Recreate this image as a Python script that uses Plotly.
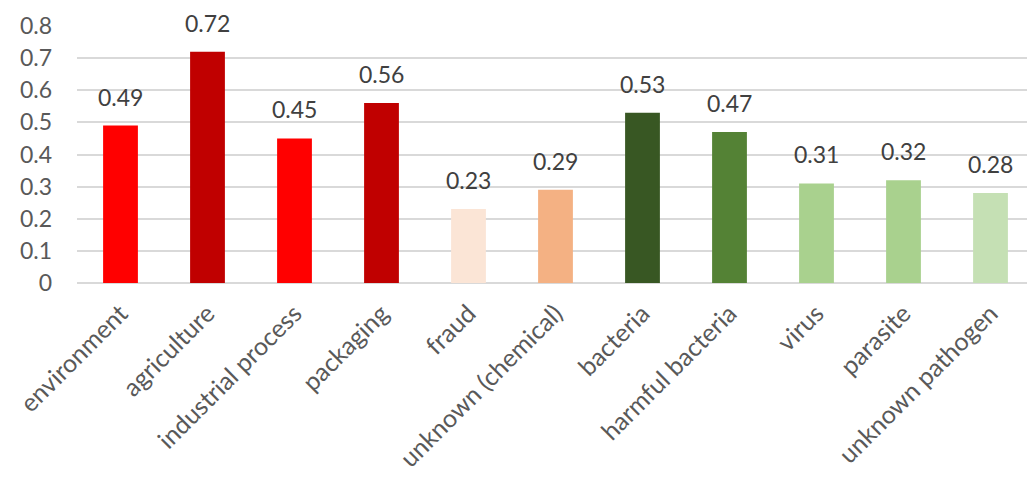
import plotly.graph_objects as go

categories = ["environment", "agriculture", "industrial process", "packaging", "fraud",
              "unknown (chemical)", "bacteria", "harmful bacteria", "virus", "parasite",
              "unknown pathogen"]
values = [0.49, 0.72, 0.45, 0.56, 0.23, 0.29, 0.53, 0.47, 0.31, 0.32, 0.28]
colors = ["#FF0000", "#C00000", "#FF0000", "#C00000", "#FBE5D6", "#F4B183",
          "#385723", "#548235", "#A9D18E", "#A9D18E", "#C5E0B4"]
labels = [f"{v:.2f}" for v in values]
y_ticks = [0, 0.1, 0.2, 0.3, 0.4, 0.5, 0.6, 0.7, 0.8]
y_tick_text = ["0", "0.1", "0.2", "0.3", "0.4", "0.5", "0.6", "0.7", "0.8"]

fig = go.Figure(go.Bar(
    x=categories, y=values, marker=dict(color=colors, line=dict(width=0)),
    width=0.4,
))
for c, v, t in zip(categories, values, labels):
    fig.add_annotation(x=c, y=v, text=t, showarrow=False, yanchor="middle",
                       yshift=29, font=dict(size=23, color="#404040", family="Lato"))
fig.update_layout(
    width=1027, height=469,
    margin=dict(l=69, r=1, t=18, b=194),
    plot_bgcolor="white", paper_bgcolor="white",
    font=dict(family="Lato", size=24, color="#595959"),
    showlegend=False,
)
fig.update_yaxes(range=[0, 0.8], tickvals=y_ticks, ticktext=y_tick_text, showgrid=True,
                 gridcolor="#D9D9D9", gridwidth=1.5, zeroline=True,
                 zerolinecolor="#D9D9D9", zerolinewidth=1.5, showline=False,
                 ticks="", ticklabelstandoff=24, tickfont=dict(size=23),
                 automargin=False)
fig.update_xaxes(tickangle=-45, showline=False, ticks="", showgrid=False,
                 tickfont=dict(size=25), automargin=False, ticklabelstandoff=10)
fig.write_html("out.html")
